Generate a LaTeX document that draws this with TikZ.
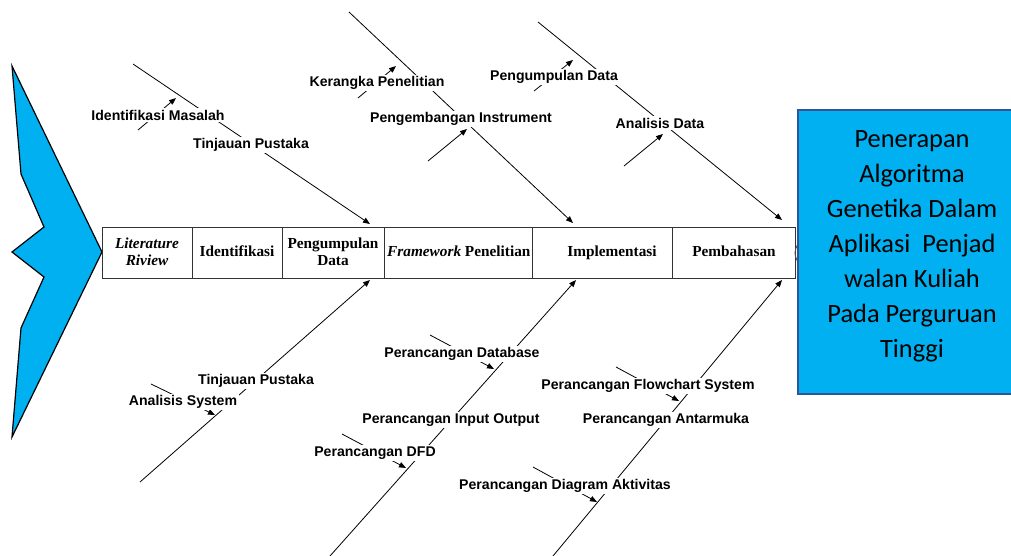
\documentclass[tikz,border=0pt]{standalone}
\usepackage{fontspec}
\setmainfont{Liberation Serif}
\newfontfamily\lblfont{Liberation Sans}
\newfontfamily\boxfont{Carlito}
\usetikzlibrary{arrows.meta}
\definecolor{fishblue}{HTML}{00B0F0}
\definecolor{boxedge}{HTML}{2F5597}
\begin{document}
\begin{tikzpicture}[x=1pt,y=-1pt,
  bone/.style={line width=0.8pt, -{Triangle[length=7pt,width=5.5pt]}},
  lbl/.style={fill=white, inner sep=1.5pt, yshift=-2pt, font=\lblfont\bfseries\fontsize{14.1}{16}\selectfont},
  cell/.style={draw=black!80, fill=white, line width=1pt, inner sep=0pt, anchor=north west, minimum height=51pt},
  celltext/.style={font=\bfseries\fontsize{15.3}{17}\selectfont, align=center, inner sep=0pt},
  onetext/.style={celltext, anchor=base}
]
\useasboundingbox (0,0) rectangle (1011,555);

% head chevron
\draw[fill=fishblue, line width=1.2pt, line join=miter]
  (12,66) -- (102,252) -- (12,437) -- (21,328) -- (44,277) -- (12,252) -- (44,227) -- (21,174) -- cycle;

% right box
\node[draw=boxedge, fill=fishblue, line width=2pt, anchor=north west, minimum width=220pt, minimum height=284pt, inner sep=0pt] (goal) at (797,109) {};
\node[font=\boxfont\fontsize{26.4}{35}\selectfont, align=center] (title) at (912,246)
  {Penerapan\\Algoritma\\Genetika Dalam\\Aplikasi\ \ Penjad\\walan Kuliah\\Pada Perguruan\\Tinggi};

% strip cells
\node[cell, minimum width=90pt] (c1) at (102,227) {};
\node[celltext] (t1) at (147,252) {{\itshape Literature}\\{\itshape Riview}};
\node[cell, minimum width=90pt] (c2) at (192,227) {};
\node[onetext] (t2) at (237,256) {Identifikasi};
\node[cell, minimum width=102pt] (c3) at (282,227) {};
\node[celltext] (t3) at (333,252) {Pengumpulan\\Data};
\node[cell, minimum width=148pt] (c4) at (384,227) {};
\node[celltext, anchor=base west] (t4) at (387,256) {\textit{Framework} Penelitian};
\node[cell, minimum width=140pt] (c5) at (532,227) {};
\node[onetext] (t5) at (612,256) {Implementasi};
\node[cell, minimum width=123pt] (c6) at (672,227) {};
\node[onetext] (t6) at (734,256) {Pembahasan};
\draw[black!70, line width=1pt] (798,244) .. controls (794,250) and (794,256) .. (798,262);

% bone coordinates
\coordinate (b1s) at (133,64);  \coordinate (b1e) at (370,224);
\coordinate (b2s) at (349,12);  \coordinate (b2e) at (573,223);
\coordinate (b3s) at (538,22);  \coordinate (b3e) at (782,220);
\coordinate (b4s) at (140,482); \coordinate (b4e) at (370,280);
\coordinate (b5s) at (330,556); \coordinate (b5e) at (576,280);
\coordinate (b6s) at (553,556); \coordinate (b6e) at (782,280);
\coordinate (s1s) at (138,130); \coordinate (s1e) at (176,98);
\coordinate (s2s) at (358,98);  \coordinate (s2e) at (396,66);
\coordinate (s3s) at (428,161); \coordinate (s3e) at (467,129);
\coordinate (s4s) at (534,91);  \coordinate (s4e) at (573,60);
\coordinate (s5s) at (624,166); \coordinate (s5e) at (663,134);
\coordinate (s6s) at (151,384); \coordinate (s6e) at (215,415);
\coordinate (s7s) at (430,335); \coordinate (s7e) at (494,369);
\coordinate (s8s) at (342,434); \coordinate (s8e) at (406,468);
\coordinate (s9s) at (616,367); \coordinate (s9e) at (679,401);
\coordinate (s10s) at (533,467); \coordinate (s10e) at (597,502);

\foreach \b in {b1,b2,b3,b4,b5,b6,s1,s2,s3,s4,s5,s6,s7,s8,s9,s10}
  \draw[bone] (\b s) -- (\b e);

% labels
\node[lbl] (l1) at (158,113) {Identifikasi Masalah};
\node[lbl] (l2) at (251,143) {Tinjauan Pustaka};
\node[lbl] (l3) at (377,81) {Kerangka Penelitian};
\node[lbl] (l4) at (461,117) {Pengembangan Instrument};
\node[lbl] (l5) at (554,75) {Pengumpulan Data};
\node[lbl] (l6) at (660,121) {Analisis Data};
\node[lbl] (l7) at (256,379) {Tinjauan Pustaka};
\node[lbl] (l8) at (183,400) {Analisis System};
\node[lbl] (l9) at (462,352) {Perancangan Database};
\node[lbl] (l10) at (451,418) {Perancangan Input Output};
\node[lbl] (l11) at (375,451) {Perancangan DFD};
\node[lbl] (l12) at (648,384) {Perancangan Flowchart System};
\node[lbl] (l13) at (666,418) {Perancangan Antarmuka};
\node[lbl] (l14) at (565,484) {Perancangan Diagram Aktivitas};
\end{tikzpicture}
\end{document}
